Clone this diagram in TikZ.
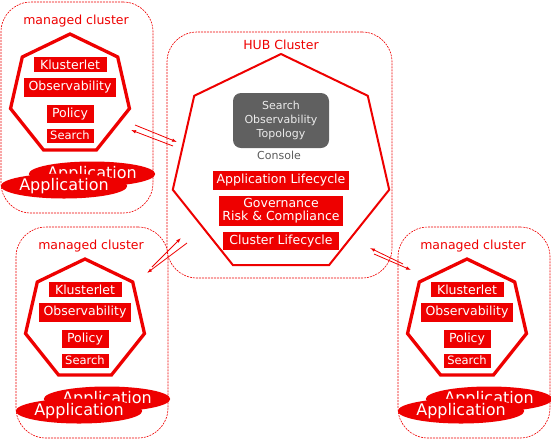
\documentclass[tikz,border=0pt]{standalone}
\usepackage{fontspec}
\setmainfont{DejaVu Sans}
\usetikzlibrary{shapes.geometric,arrows.meta}
\definecolor{rhred}{RGB}{238,0,0}
\definecolor{consolebg}{RGB}{96,96,96}
\definecolor{consoletext}{RGB}{90,90,90}
\definecolor{lighttext}{RGB}{235,235,235}
\begin{document}
\begin{tikzpicture}[x=1pt,y=-1pt,
  cluster/.style={draw=rhred, line width=0.6pt, dash pattern=on 2pt off 1pt, rounded corners=30pt, inner sep=0pt},
  hepta/.style={regular polygon, regular polygon sides=7, draw=rhred, inner sep=0pt},
  compbox/.style={fill=rhred, text=white, inner sep=0pt, font=\fontsize{12.5}{13}\selectfont},
  appell/.style={ellipse, fill=rhred, text=white, minimum width=109pt, minimum height=25pt, inner sep=0pt, font=\fontsize{16}{16}\selectfont},
  titletext/.style={text=rhred, inner sep=0pt, font=\fontsize{12.5}{14}\selectfont},
  link/.style={draw=rhred, line width=0.8pt, -{Latex[length=5pt,width=3.5pt]}},
  managed/.pic={
    \node[cluster, minimum width=152pt, minimum height=211pt] (-box) at (7,12.5) {};
    \node[titletext] (-title) at (6,-74) {managed cluster};
    \node[hepta, line width=3.3pt, minimum size=122pt] (-hep) at (0,0) {};
    \node[compbox, minimum width=73pt, minimum height=15pt] (-kl) at (0,-30.5) {Klusterlet};
    \node[compbox, minimum width=92pt, minimum height=19pt] (-ob) at (0,-7.5) {Observability};
    \node[compbox, minimum width=47pt, minimum height=18pt] (-po) at (0,19) {Policy};
    \node[compbox, minimum width=47pt, minimum height=14pt, font=\fontsize{11.5}{12}\selectfont] (-se) at (0,40.5) {Search};
    \node[appell] (-appb) at (22,79) {Application};
    \node[appell] (-appf) at (-6,91) {Application};
  }]
\useasboundingbox (0,0) rectangle (551,440);

% managed clusters
\pic (tl) at (70,95) {managed};
\pic (bl) at (85,320) {managed};
\pic (br) at (467,320) {managed};

% hub cluster
\node[cluster, minimum width=225pt, minimum height=246pt] (hubbox) at (279.5,155) {};
\node[titletext] (hubtitle) at (281,45) {HUB Cluster};
\node[hepta, line width=2pt, minimum size=222pt] (hubhep) at (281,165) {};
\node[fill=consolebg, text=lighttext, rounded corners=8pt, minimum width=96pt, minimum height=55pt, inner sep=0pt, align=center, font=\fontsize{11}{14}\selectfont] (console) at (281,120.5) {Search\\Observability\\Topology};
\node[text=consoletext, inner sep=0pt, font=\fontsize{11}{13}\selectfont] (consolelabel) at (279,155) {Console};
\node[compbox, minimum width=136pt, minimum height=19pt] (applc) at (281,180.5) {Application Lifecycle};
\node[compbox, minimum width=124pt, minimum height=30pt, align=center] (grc) at (281,211) {Governance\\Risk \& Compliance};
\node[compbox, minimum width=116pt, minimum height=18pt] (clc) at (281,241) {Cluster Lifecycle};

% link end points
\coordinate (t1s) at (135,125);
\coordinate (t1e) at (177,142);
\coordinate (t2s) at (173,146);
\coordinate (t2e) at (131,130);
\coordinate (b1s) at (152,267);
\coordinate (b1e) at (181,238);
\coordinate (b2s) at (187,243);
\coordinate (b2e) at (147,273);
\coordinate (r1s) at (403,264);
\coordinate (r1e) at (370,248);
\coordinate (r2s) at (374,254);
\coordinate (r2e) at (411,270);

\draw[link] (t1s) -- (t1e);
\draw[link] (t2s) -- (t2e);
\draw[link] (b1s) -- (b1e);
\draw[link] (b2s) -- (b2e);
\draw[link] (r1s) -- (r1e);
\draw[link] (r2s) -- (r2e);
\end{tikzpicture}
\end{document}
